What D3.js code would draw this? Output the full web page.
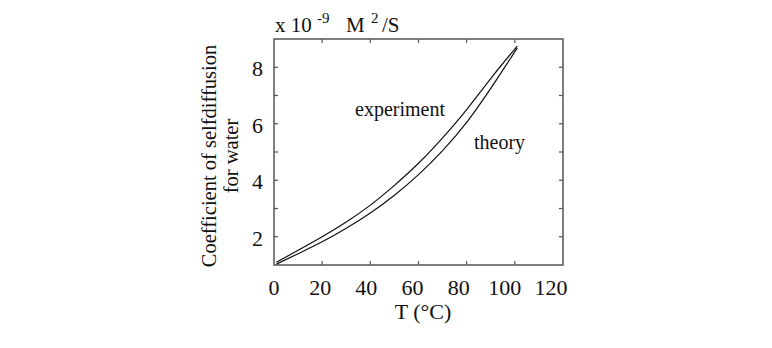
<!DOCTYPE html>
<html>
<head>
<meta charset="utf-8">
<script src="https://cdn.jsdelivr.net/npm/d3@7"></script>
<style>
  body { margin: 0; background: #fff; }
  svg text { font-family: "Liberation Serif", "DejaVu Serif", serif; fill: #111; }
</style>
</head>
<body>
<div id="chart"></div>
<script>
// temperature (°C) and self-diffusion coefficient (x 10^-9 m^2/s)
const temps = [1, 10, 20, 30, 40, 50, 60, 70, 80, 90, 101];
const experiment = [1.1, 1.52, 2.0, 2.52, 3.12, 3.82, 4.6, 5.5, 6.5, 7.6, 8.75];
const theory = [1.03, 1.4, 1.82, 2.3, 2.84, 3.47, 4.2, 5.05, 6.05, 7.25, 8.68];

const xTicks = [0, 20, 40, 60, 80, 100, 120];
const yTicks = [2, 4, 6, 8];
const yMinor = [2, 3, 4, 5, 6, 7, 8];

const W = 772, H = 348;
const svg = d3.select('#chart').append('svg')
  .attr('width', W)
  .attr('height', H);

const x = d3.scaleLinear().domain([0, 120]).range([274, 563]);
const y = d3.scaleLinear().domain([1, 9]).range([265, 39]);

const axisColor = '#555';

// frame
svg.append('rect')
  .attr('x', x(0)).attr('y', y(9))
  .attr('width', x(120) - x(0)).attr('height', y(1) - y(9))
  .attr('fill', 'none')
  .attr('stroke', axisColor)
  .attr('stroke-width', 1.5);

// inward ticks
const tickLen = 4;
xTicks.slice(1, -1).forEach(t => {
  svg.append('line').attr('x1', x(t)).attr('x2', x(t))
    .attr('y1', y(1)).attr('y2', y(1) - tickLen)
    .attr('stroke', axisColor).attr('stroke-width', 1.2);
  svg.append('line').attr('x1', x(t)).attr('x2', x(t))
    .attr('y1', y(9)).attr('y2', y(9) + tickLen)
    .attr('stroke', axisColor).attr('stroke-width', 1.2);
});
yMinor.forEach(t => {
  svg.append('line').attr('x1', x(0)).attr('x2', x(0) + tickLen)
    .attr('y1', y(t)).attr('y2', y(t))
    .attr('stroke', axisColor).attr('stroke-width', 1.2);
  svg.append('line').attr('x1', x(120)).attr('x2', x(120) - tickLen)
    .attr('y1', y(t)).attr('y2', y(t))
    .attr('stroke', axisColor).attr('stroke-width', 1.2);
});

// tick labels
svg.selectAll('.xlab').data(xTicks).join('text')
  .attr('class', 'xlab')
  .attr('x', d => x(d) - d * 0.1)
  .attr('y', 295)
  .attr('text-anchor', 'middle')
  .attr('font-size', 22)
  .text(d => d);

svg.selectAll('.ylab').data(yTicks).join('text')
  .attr('class', 'ylab')
  .attr('x', 263)
  .attr('y', d => y(d) + 9)
  .attr('text-anchor', 'end')
  .attr('font-size', 22)
  .text(d => d);

// axis titles
svg.append('text')
  .attr('x', 423).attr('y', 319)
  .attr('text-anchor', 'middle')
  .attr('font-size', 22)
  .text('T (°C)');

const yTitle = svg.append('text')
  .attr('transform', 'translate(216,156) rotate(-90)')
  .attr('text-anchor', 'middle')
  .attr('font-size', 20.5);
yTitle.append('tspan').attr('x', 0).attr('dy', 0).text('Coefficient of selfdiffusion');
yTitle.append('tspan').attr('x', 0).attr('dy', 22).text('for water');

// unit label above the plot
const unit = svg.append('text')
  .attr('y', 32)
  .attr('font-size', 21);
unit.append('tspan').attr('x', 275).text('x 10');
unit.append('tspan').attr('x', 317).attr('dy', -9).attr('font-size', 15).text('-9');
unit.append('tspan').attr('x', 346).attr('dy', 9).text('M');
unit.append('tspan').attr('x', 371).attr('dy', -9).attr('font-size', 15).text('2');
unit.append('tspan').attr('x', 382).attr('dy', 9).text('/S');

// curves
const line = d3.line()
  .x((d, i) => x(temps[i]))
  .y(d => y(d))
  .curve(d3.curveNatural);

[experiment, theory].forEach(series => {
  svg.append('path')
    .datum(series)
    .attr('d', line)
    .attr('fill', 'none')
    .attr('stroke', '#111')
    .attr('stroke-width', 1.2);
});

// annotations
svg.append('text')
  .attr('x', 355).attr('y', 116)
  .attr('font-size', 20)
  .text('experiment');
svg.append('text')
  .attr('x', 474).attr('y', 149)
  .attr('font-size', 20)
  .text('theory');
</script>
</body>
</html>
